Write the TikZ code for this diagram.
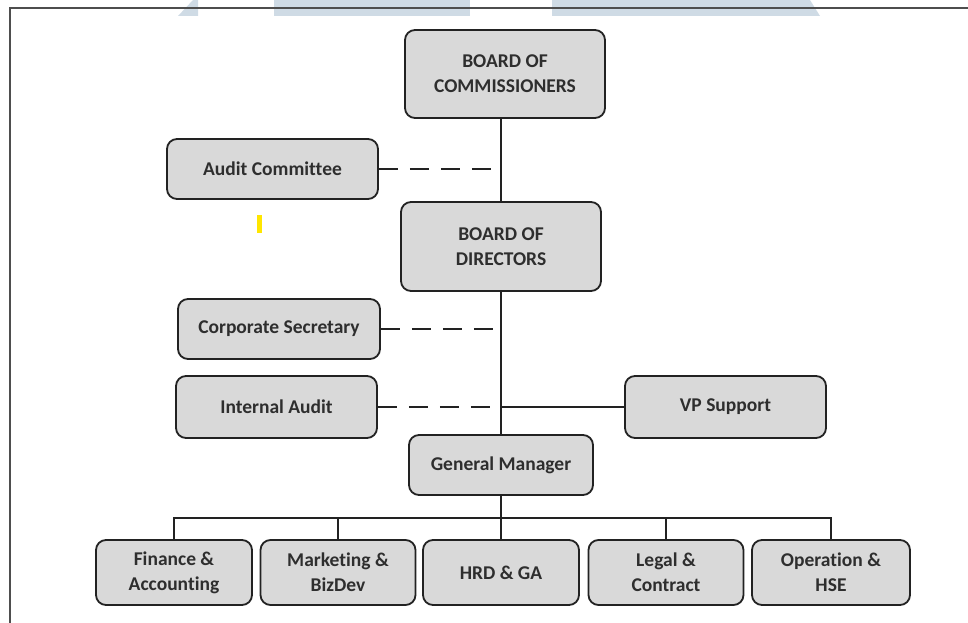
\documentclass[tikz,border=0pt]{standalone}
\usepackage{fontspec}
\setmainfont{Carlito}[Ligatures=NoCommon]
\definecolor{boxfill}{HTML}{D9D9D9}
\definecolor{boxline}{HTML}{222222}
\definecolor{txt}{HTML}{2E2E2E}
\definecolor{wm}{HTML}{CFDBE5}
\definecolor{yelmark}{HTML}{FFE600}
\begin{document}
\begin{tikzpicture}[x=1pt,y=-1pt,
  box/.style={draw=boxline, line width=1.8pt, fill=boxfill, rounded corners=10pt,
    align=center, text=txt, font=\bfseries\fontsize{19.5}{25}\selectfont, inner sep=0pt},
  conn/.style={draw=boxline, line width=1.5pt},
  dconn/.style={conn, dash pattern=on 19pt off 12pt}]
\useasboundingbox (0,0) rectangle (968,623);
% watermark
\fill[wm] (193,0) -- (198,0) -- (198,16) -- (178,16) -- cycle;
\fill[wm] (274,0) rectangle (470,16);
\fill[wm] (552,0) -- (810,0) -- (820,16) -- (552,16) -- cycle;
% frame
\draw[draw=boxline!80, line width=1.3pt] (10,623) -- (10,8) -- (968,8);
% yellow mark
\fill[yelmark] (257,215) rectangle (262,233);
% nodes
\node[box, minimum width=200pt, minimum height=88pt] (boc) at (505,74) {BOARD OF\\COMMISSIONERS};
\node[box, minimum width=211pt, minimum height=60pt] (ac) at (272.5,169) {Audit Committee};
\node[box, minimum width=200pt, minimum height=89pt] (bod) at (501,246.5) {BOARD OF\\DIRECTORS};
\node[box, minimum width=202pt, minimum height=60pt] (cs) at (279,329) {Corporate Secretary};
\node[box, minimum width=201pt, minimum height=62pt] (ia) at (276.5,407) {Internal Audit};
\node[box, minimum width=201pt, minimum height=62pt] (vp) at (725.5,407) {VP Support};
\node[box, minimum width=184pt, minimum height=60pt] (gm) at (501,465) {General Manager};
\node[box, minimum width=156pt, minimum height=65pt] (fa) at (174,572.5) {Finance \&\\Accounting};
\node[box, minimum width=155pt, minimum height=65pt] (mb) at (338,572.5) {Marketing \&\\BizDev};
\node[box, minimum width=156pt, minimum height=65pt] (hr) at (501,572.5) {HRD \& GA};
\node[box, minimum width=155pt, minimum height=65pt] (lc) at (666,572.5) {Legal \&\\Contract};
\node[box, minimum width=158pt, minimum height=65pt] (op) at (831,572.5) {Operation \&\\HSE};
\coordinate (bus) at (501,518);
% connectors
\draw[conn] (boc.south -| bod.north) -- (bod.north);
\draw[conn] (bod.south) -- (gm.north);
\draw[dconn] (ac.east) -- (ac.east -| bod.north);
\draw[dconn] (cs.east) -- (cs.east -| bod.south);
\draw[dconn] (ia.east) -- (ia.east -| gm.north);
\draw[conn] (ia.east -| gm.north) -- (vp.west);
\draw[conn] (gm.south) -- (bus);
\draw[conn] (fa.north) |- (bus) -| (op.north);
\draw[conn] (mb.north) -- (mb.north |- bus);
\draw[conn] (hr.north) -- (hr.north |- bus);
\draw[conn] (lc.north) -- (lc.north |- bus);
\end{tikzpicture}
\end{document}
